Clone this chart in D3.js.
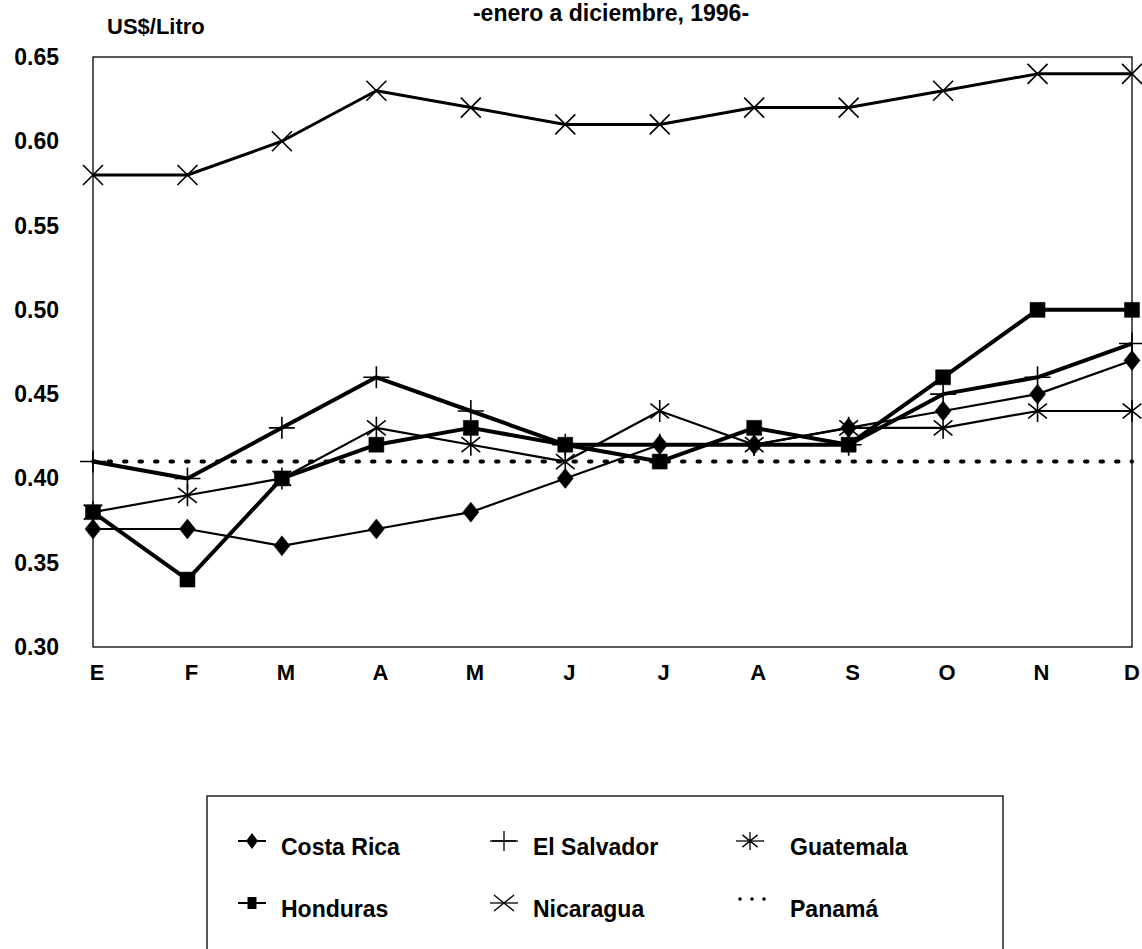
<!DOCTYPE html>
<html>
<head>
<meta charset="utf-8">
<script src="https://cdn.jsdelivr.net/npm/d3@7"></script>
<style>
  body { margin: 0; background: #fff; }
  svg { display: block; }
  text { font-family: "Liberation Sans", Arial, sans-serif; font-weight: bold; fill: #000; }
</style>
</head>
<body>
<div id="chart"></div>
<script>
// months, E..D
var months = ["E", "F", "M", "A", "M", "J", "J", "A", "S", "O", "N", "D"]
var yTicks = [0.30, 0.35, 0.40, 0.45, 0.50, 0.55, 0.60, 0.65]

// US$/litro
var costaRica  = [0.37, 0.37, 0.36, 0.37, 0.38, 0.40, 0.42, 0.42, 0.43, 0.44, 0.45, 0.47]
var elSalvador = [0.41, 0.40, 0.43, 0.46, 0.44, 0.42, 0.42, 0.42, 0.42, 0.45, 0.46, 0.48]
var guatemala  = [0.38, 0.39, 0.40, 0.43, 0.42, 0.41, 0.44, 0.42, 0.43, 0.43, 0.44, 0.44]
var honduras   = [0.38, 0.34, 0.40, 0.42, 0.43, 0.42, 0.41, 0.43, 0.42, 0.46, 0.50, 0.50]
var nicaragua  = [0.58, 0.58, 0.60, 0.63, 0.62, 0.61, 0.61, 0.62, 0.62, 0.63, 0.64, 0.64]
var panama     = [0.41, 0.41, 0.41, 0.41, 0.41, 0.41, 0.41, 0.41, 0.41, 0.41, 0.41, 0.41]

var width = 1142
	height = 949

var svg = d3.select("#chart")
	.append("svg")
	.attr("width", width)
	.attr("height", height)

var x = d3.scalePoint()
	.domain(d3.range(months.length))
	.range([93, 1132])

var y = d3.scaleLinear()
	.domain([0.30, 0.65])
	.range([647, 57])

// marker shapes
function diamond(rx, ry) { return "M0," + (-ry) + "L" + rx + ",0L0," + ry + "L" + (-rx) + ",0Z" }
function square(w, h) { return "M" + (-w / 2) + "," + (-h / 2) + "h" + w + "v" + h + "h" + (-w) + "Z" }
function plus(rx, ry) { return "M" + (-rx) + ",0H" + rx + "M0," + (-ry) + "V" + ry }
function ex(rx, ry) { return "M" + (-rx) + "," + (-ry) + "L" + rx + "," + ry + "M" + (-rx) + "," + ry + "L" + rx + "," + (-ry) }
function star(r) {
	var d = r * 0.85
	return "M0," + (-r) + "V" + r + "M" + (-d) + "," + (-d * 0.8) + "L" + d + "," + (d * 0.8) + "M" + (-d) + "," + (d * 0.8) + "L" + d + "," + (-d * 0.8)
}

var series = [
	{name: "Costa Rica", values: costaRica, lw: 2.2, shape: diamond(8, 10), small: diamond(6, 8), fill: true},
	{name: "El Salvador", values: elSalvador, lw: 4, shape: plus(13, 11), small: plus(12, 10), fill: false},
	{name: "Guatemala", values: guatemala, lw: 2.2, shape: star(11), small: star(9), fill: false},
	{name: "Honduras", values: honduras, lw: 4, shape: square(15, 15), small: square(9, 12), fill: true},
	{name: "Nicaragua", values: nicaragua, lw: 3, shape: ex(10, 10), small: ex(10, 8), fill: false},
	{name: "Panamá", values: panama, lw: 4, dotted: true}
]

// title (at the very top, as in the scan)
svg.append("text")
	.attr("x", 611)
	.attr("y", 21)
	.attr("text-anchor", "middle")
	.attr("font-size", 23)
	.text("-enero a diciembre, 1996-")

svg.append("text")
	.attr("x", 107)
	.attr("y", 34)
	.attr("font-size", 22)
	.text("US$/Litro")

// frame
svg.append("rect")
	.attr("x", 93)
	.attr("y", 57)
	.attr("width", 1132 - 93)
	.attr("height", 647 - 57)
	.attr("fill", "none")
	.attr("stroke", "#000")
	.attr("stroke-width", 1.3)

svg.selectAll(".ytick")
	.data(yTicks)
	.enter()
	.append("text")
	.attr("x", 59)
	.attr("y", function(d) { return y(d) + 8 })
	.attr("text-anchor", "end")
	.attr("font-size", 23)
	.text(function(d) { return d.toFixed(2) })

svg.selectAll(".xtick")
	.data(months)
	.enter()
	.append("text")
	.attr("x", function(d, i) { return Math.min(x(i) + 4, width - 10) })
	.attr("y", 680)
	.attr("text-anchor", "middle")
	.attr("font-size", 22)
	.text(function(d) { return d })

var line = d3.line()
	.x(function(d, i) { return x(i) })
	.y(function(d) { return y(d) })

series.forEach(function(s) {
	var p = svg.append("path")
		.datum(s.values)
		.attr("d", line)
		.attr("fill", "none")
		.attr("stroke", "#000")
		.attr("stroke-width", s.lw)
		.attr("stroke-linejoin", "round")
	if (s.dotted) {
		p.attr("stroke-dasharray", "2.5,13").attr("stroke-linecap", "round")
	}
})

series.forEach(function(s) {
	if (s.dotted) return
	svg.selectAll(null)
		.data(s.values)
		.enter()
		.append("path")
		.attr("transform", function(d, i) { return "translate(" + x(i) + "," + y(d) + ")" })
		.attr("d", s.shape)
		.attr("fill", s.fill ? "#000" : "none")
		.attr("stroke", "#000")
		.attr("stroke-width", s.fill ? 0.5 : 1.6)
})

// legend
var legend = svg.append("g")
legend.append("rect")
	.attr("x", 207)
	.attr("y", 796)
	.attr("width", 1003 - 207)
	.attr("height", 200)
	.attr("fill", "none")
	.attr("stroke", "#000")
	.attr("stroke-width", 1.3)

var symX = [252, 504, 750]
	textX = [281, 533, 790]
	rows = [855, 917]

series.forEach(function(s, i) {
	var c = i % 3
		cy = rows[Math.floor(i / 3)]
	var g = legend.append("g").attr("transform", "translate(" + symX[c] + "," + (cy - 14) + ")")
	if (s.dotted) {
		g.selectAll("circle")
			.data([-10, 2, 14])
			.enter()
			.append("circle")
			.attr("cx", function(d) { return d })
			.attr("cy", -4)
			.attr("r", 1.8)
			.attr("fill", "#000")
	} else {
		g.append("line")
			.attr("x1", -14).attr("x2", 14)
			.attr("stroke", "#000")
			.attr("stroke-width", s.fill ? 2 : 1.3)
		g.append("path")
			.attr("d", s.small)
			.attr("fill", s.fill ? "#000" : "none")
			.attr("stroke", "#000")
			.attr("stroke-width", s.fill ? 0 : 1.3)
	}
	legend.append("text")
		.attr("x", textX[c])
		.attr("y", cy)
		.attr("font-size", 23)
		.text(s.name)
})
</script>
</body>
</html>
